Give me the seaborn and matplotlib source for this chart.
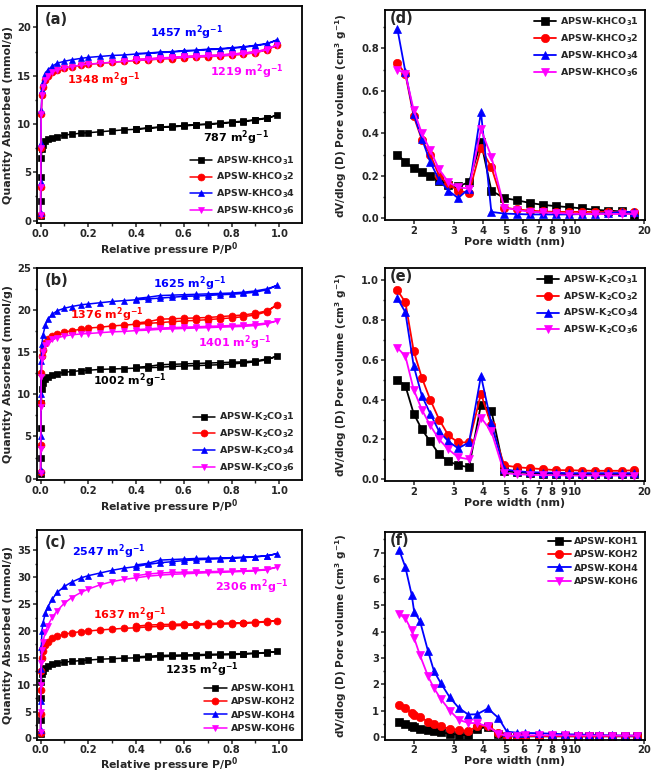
import matplotlib
matplotlib.use("Agg")
import matplotlib.pyplot as plt
from matplotlib.ticker import AutoMinorLocator, FixedLocator, NullLocator, MultipleLocator
import seaborn as sns

# relative pressure grid (adsorption branch, then desorption branch)
p_ads = [0.0002, 0.0006, 0.0015, 0.003, 0.006, 0.01, 0.02, 0.03, 0.05, 0.07, 0.1, 0.13, 0.17, 0.2,
         0.25, 0.3, 0.35, 0.4, 0.45, 0.5, 0.55, 0.6, 0.65, 0.7, 0.75, 0.8, 0.85, 0.9, 0.95, 0.99]
p_des = [0.95, 0.9, 0.85, 0.8, 0.75, 0.7, 0.65, 0.6, 0.55, 0.5, 0.45, 0.4]

# (a) KHCO3 isotherms
khco3_1_ads = [0.5, 2.0, 4.5, 6.5, 7.4, 7.8, 8.2, 8.4, 8.6, 8.7, 8.85, 8.95, 9.05, 9.1, 9.2, 9.3, 9.4, 9.45,
               9.55, 9.65, 9.7, 9.8, 9.9, 9.95, 10.05, 10.15, 10.25, 10.4, 10.6, 10.9]
khco3_1_des = [10.65, 10.45, 10.3, 10.2, 10.1, 10.0, 9.95, 9.85, 9.75, 9.7, 9.6, 9.5]
khco3_2_ads = [0.6, 3.5, 7.5, 11.0, 13.0, 13.8, 14.58, 14.98, 15.38, 15.58, 15.78, 15.93, 16.08, 16.18, 16.28,
               16.38, 16.48, 16.58, 16.63, 16.73, 16.78, 16.88, 16.93, 16.98, 17.03, 17.13, 17.23, 17.38,
               17.68, 18.18]
khco3_2_des = [17.73, 17.48, 17.33, 17.23, 17.13, 17.08, 17.03, 16.98, 16.88, 16.83, 16.73, 16.68]
khco3_4_ads = [0.8, 4.0, 8.0, 11.5, 13.5, 14.3, 15.2, 15.6, 16.0, 16.3, 16.5, 16.65, 16.8, 16.9, 17.0, 17.1,
               17.15, 17.25, 17.3, 17.4, 17.45, 17.55, 17.6, 17.7, 17.75, 17.85, 17.95, 18.1, 18.3, 18.7]
khco3_4_des = [18.35, 18.15, 18.0, 17.9, 17.8, 17.75, 17.65, 17.6, 17.5, 17.45, 17.35, 17.3]
khco3_6_ads = [0.6, 3.5, 7.5, 11.0, 13.0, 13.8, 14.6, 15.0, 15.4, 15.6, 15.8, 15.95, 16.1, 16.2, 16.3, 16.4,
               16.5, 16.6, 16.65, 16.75, 16.8, 16.9, 16.95, 17.0, 17.05, 17.15, 17.25, 17.4, 17.7, 18.2]
khco3_6_des = [17.75, 17.5, 17.35, 17.25, 17.15, 17.1, 17.05, 17.0, 16.9, 16.85, 16.75, 16.7]

# (b) K2CO3 isotherms
k2co3_1_ads = [0.5, 2.5, 6.0, 9.0, 10.6, 11.3, 11.8, 12.0, 12.3, 12.45, 12.6, 12.7, 12.8, 12.85, 12.95, 13.0,
               13.05, 13.1, 13.15, 13.2, 13.3, 13.35, 13.4, 13.45, 13.5, 13.6, 13.7, 13.85, 14.1, 14.5]
k2co3_1_des = [14.2, 13.95, 13.85, 13.8, 13.75, 13.7, 13.65, 13.6, 13.55, 13.5, 13.3, 13.2]
k2co3_2_ads = [0.8, 4.0, 9.0, 12.5, 14.5, 15.3, 16.1, 16.5, 16.9, 17.1, 17.35, 17.55, 17.7, 17.85, 17.95, 18.1,
               18.2, 18.3, 18.4, 18.5, 18.6, 18.7, 18.75, 18.85, 18.95, 19.05, 19.2, 19.4, 19.8, 20.6]
k2co3_2_des = [19.9, 19.6, 19.4, 19.3, 19.2, 19.1, 19.05, 19.0, 18.95, 18.9, 18.6, 18.45]
k2co3_4_ads = [1.0, 5.0, 10.0, 14.0, 16.0, 17.0, 18.2, 18.9, 19.5, 19.9, 20.2, 20.4, 20.6, 20.7, 20.85, 21.0,
               21.1, 21.2, 21.3, 21.4, 21.5, 21.6, 21.65, 21.7, 21.8, 21.85, 21.95, 22.1, 22.4, 22.9]
k2co3_4_des = [22.5, 22.25, 22.1, 22.0, 21.95, 21.9, 21.85, 21.8, 21.75, 21.7, 21.5, 21.35]
k2co3_6_ads = [0.7, 3.5, 8.5, 12.0, 14.2, 15.0, 15.8, 16.1, 16.5, 16.7, 16.9, 17.05, 17.15, 17.2, 17.3, 17.4,
               17.45, 17.55, 17.6, 17.7, 17.75, 17.8, 17.85, 17.9, 17.95, 18.0, 18.05, 18.15, 18.35, 18.7]
k2co3_6_des = [18.45, 18.3, 18.2, 18.15, 18.1, 18.05, 18.0, 17.95, 17.9, 17.85, 17.75, 17.65]

# (c) KOH isotherms
koh_1_ads = [0.8, 3.5, 7.5, 10.5, 12.0, 12.6, 13.2, 13.5, 13.8, 14.0, 14.2, 14.35, 14.5, 14.6, 14.75, 14.85,
             14.95, 15.0, 15.1, 15.2, 15.3, 15.35, 15.4, 15.5, 15.55, 15.6, 15.7, 15.8, 15.95, 16.2]
koh_1_des = [16.0, 15.9, 15.8, 15.75, 15.7, 15.65, 15.6, 15.55, 15.5, 15.45, 15.3, 15.2]
koh_2_ads = [1.0, 4.5, 9.0, 12.5, 15.0, 16.2, 17.4, 18.0, 18.7, 19.0, 19.4, 19.65, 19.9, 20.0, 20.2, 20.35,
             20.5, 20.6, 20.75, 20.85, 20.95, 21.05, 21.1, 21.2, 21.25, 21.35, 21.45, 21.55, 21.7, 21.95]
koh_2_des = [21.8, 21.65, 21.55, 21.5, 21.45, 21.4, 21.35, 21.3, 21.25, 21.2, 21.1, 20.9]
koh_4_ads = [1.5, 7.0, 13.0, 17.0, 20.0, 21.5, 23.3, 24.5, 26.0, 27.2, 28.3, 29.1, 29.9, 30.3, 30.8, 31.3,
             31.7, 32.0, 32.4, 32.7, 32.9, 33.1, 33.25, 33.35, 33.45, 33.55, 33.65, 33.8, 34.0, 34.4]
koh_4_des = [34.0, 33.85, 33.75, 33.65, 33.6, 33.55, 33.5, 33.4, 33.3, 33.2, 32.6, 32.3]
koh_6_ads = [1.2, 5.0, 10.0, 14.0, 16.5, 18.0, 19.8, 21.0, 22.6, 23.8, 25.2, 26.2, 27.2, 27.8, 28.6, 29.2,
             29.6, 29.9, 30.2, 30.4, 30.55, 30.65, 30.75, 30.85, 30.9, 31.0, 31.1, 31.2, 31.4, 31.9]
koh_6_des = [31.5, 31.3, 31.2, 31.15, 31.1, 31.05, 31.0, 30.95, 30.9, 30.8, 30.6, 30.3]

# pore size distributions (d), (e) share a pore width grid; (f) has its own
w_de = [1.70, 1.84, 2.00, 2.17, 2.36, 2.58, 2.83, 3.12, 3.48, 3.92, 4.35, 4.95, 5.6, 6.4, 7.3, 8.3,
        9.5, 10.8, 12.3, 14.0, 16.0, 18.2]
psd_khco3_1 = [0.30, 0.265, 0.235, 0.218, 0.198, 0.175, 0.157, 0.150, 0.170, 0.36, 0.13, 0.095, 0.085,
               0.072, 0.063, 0.057, 0.052, 0.046, 0.040, 0.036, 0.032, 0.015]
psd_khco3_2 = [0.73, 0.68, 0.48, 0.37, 0.30, 0.20, 0.16, 0.13, 0.12, 0.33, 0.24, 0.05, 0.042, 0.036, 0.032,
               0.03, 0.03, 0.03, 0.03, 0.03, 0.03, 0.03]
psd_khco3_4 = [0.89, 0.69, 0.49, 0.375, 0.265, 0.18, 0.13, 0.095, 0.14, 0.50, 0.03, 0.022, 0.02, 0.018,
               0.018, 0.018, 0.018, 0.02, 0.02, 0.025, 0.03, 0.03]
psd_khco3_6 = [0.70, 0.68, 0.51, 0.40, 0.32, 0.23, 0.17, 0.145, 0.14, 0.42, 0.29, 0.05, 0.04, 0.03, 0.028,
               0.025, 0.022, 0.02, 0.02, 0.02, 0.02, 0.02]

psd_k2co3_1 = [0.50, 0.47, 0.33, 0.25, 0.19, 0.125, 0.09, 0.07, 0.06, 0.375, 0.345, 0.04, 0.035, 0.03,
               0.028, 0.026, 0.025, 0.025, 0.025, 0.025, 0.025, 0.025]
psd_k2co3_2 = [0.95, 0.89, 0.645, 0.51, 0.40, 0.30, 0.22, 0.185, 0.185, 0.43, 0.27, 0.07, 0.06, 0.055,
               0.05, 0.045, 0.045, 0.043, 0.042, 0.042, 0.042, 0.045]
psd_k2co3_4 = [0.91, 0.84, 0.57, 0.42, 0.33, 0.24, 0.19, 0.155, 0.185, 0.52, 0.28, 0.05, 0.04, 0.035,
               0.033, 0.032, 0.03, 0.03, 0.03, 0.03, 0.03, 0.03]
psd_k2co3_6 = [0.66, 0.62, 0.45, 0.35, 0.27, 0.20, 0.15, 0.11, 0.10, 0.31, 0.24, 0.03, 0.025, 0.022, 0.02,
               0.02, 0.018, 0.018, 0.018, 0.018, 0.018, 0.018]

w_f = [1.73, 1.84, 1.96, 2.01, 2.13, 2.31, 2.45, 2.62, 2.87, 3.14, 3.45, 3.77, 4.20, 4.67, 5.08, 5.6,
       6.1, 7.0, 8.0, 9.1, 10.4, 11.6, 12.8, 14.6, 16.6, 18.7]
psd_koh_1 = [0.55, 0.5, 0.4, 0.38, 0.31, 0.25, 0.21, 0.17, 0.12, 0.08, 0.06, 0.3, 0.38, 0.1, 0.02, 0.02,
             0.02, 0.02, 0.02, 0.02, 0.02, 0.02, 0.02, 0.02, 0.02, 0.02]
psd_koh_2 = [1.2, 1.1, 0.9, 0.85, 0.75, 0.58, 0.48, 0.4, 0.31, 0.27, 0.22, 0.4, 0.42, 0.15, 0.03, 0.03,
             0.03, 0.03, 0.03, 0.03, 0.03, 0.03, 0.03, 0.03, 0.03, 0.03]
psd_koh_4 = [7.1, 6.45, 5.4, 4.75, 4.4, 3.25, 2.5, 2.05, 1.5, 1.1, 0.85, 0.86, 1.08, 0.72, 0.2, 0.16,
             0.15, 0.14, 0.12, 0.1, 0.09, 0.08, 0.07, 0.06, 0.05, 0.05]
psd_koh_6 = [4.67, 4.5, 4.05, 3.75, 3.1, 2.3, 1.85, 1.45, 1.0, 0.65, 0.53, 0.52, 0.4, 0.12, 0.04, 0.05,
             0.06, 0.06, 0.06, 0.06, 0.05, 0.05, 0.05, 0.05, 0.05, 0.05]

colors = ["#000000", "#ff0000", "#0000ff", "#ff00ff"]
markers = ["s", "o", "^", "v"]

sns.set_style("ticks")
plt.rcParams["font.family"] = ["DejaVu Sans"]
plt.rcParams["font.weight"] = "bold"
plt.rcParams["axes.labelweight"] = "bold"
plt.rcParams["mathtext.default"] = "bf"
plt.rcParams["axes.linewidth"] = 1.3
plt.rcParams["xtick.major.width"] = 1.1
plt.rcParams["ytick.major.width"] = 1.1
plt.rcParams["xtick.minor.width"] = 1.0
plt.rcParams["ytick.minor.width"] = 1.0

fig = plt.figure(figsize=(6.58, 7.76), dpi=100)

left_boxes = [[0.0562, 0.712, 0.4027, 0.280], [0.0562, 0.381, 0.4027, 0.274], [0.0562, 0.047, 0.4027, 0.270]]
right_boxes = [[0.585, 0.716, 0.395, 0.271], [0.585, 0.380, 0.395, 0.275], [0.585, 0.047, 0.395, 0.268]]


def style_axes(ax):
    for s in ax.spines.values():
        s.set_visible(True)
        s.set_linewidth(1.3)
        s.set_color("black")
    ax.tick_params(axis="both", which="both", direction="out", labelsize=7.2, pad=1.2,
                   top=False, right=False)
    ax.tick_params(which="major", length=3)
    ax.tick_params(which="minor", length=1.8)
    for lab in ax.get_xticklabels() + ax.get_yticklabels():
        lab.set_fontweight("bold")


def iso_panel(ax, series, labels, ylim, ystep, notes, tag):
    for (ads, des), lab, c, m in zip(series, labels, colors, markers):
        sns.lineplot(x=p_ads + p_des, y=ads + des, sort=False, estimator=None, ax=ax, color=c,
                     marker=m, markersize=5, markeredgecolor=c, markeredgewidth=0.5,
                     linewidth=1.1, label=lab)
    ax.set_xlim(-0.015, 1.095)
    ax.set_ylim(*ylim)
    ax.xaxis.set_major_locator(MultipleLocator(0.2))
    ax.xaxis.set_minor_locator(AutoMinorLocator(2))
    ax.yaxis.set_major_locator(MultipleLocator(ystep))
    ax.yaxis.set_minor_locator(AutoMinorLocator(2))
    ax.set_xlabel("Relative pressure P/P$^0$", fontsize=7.8, fontweight="bold")
    ax.set_ylabel("Quantity Absorbed (mmol/g)", fontsize=8, fontweight="bold")
    ax.xaxis.set_label_coords(0.5, -0.078)
    ax.yaxis.set_label_coords(-0.09, 0.5)
    for x, y, txt, c in notes:
        ax.text(x, y, txt, color=c, fontsize=8, fontweight="bold", va="center", ha="left")
    ax.text(0.03, 0.975, tag, transform=ax.transAxes, fontsize=10.5, fontweight="bold", va="top")
    ax.legend(loc="lower right", frameon=False, handlelength=2.4, handletextpad=0.4,
              labelspacing=0.45, borderaxespad=0.3, prop={"weight": "bold", "size": 6.8})
    style_axes(ax)


def psd_panel(ax, widths, series, labels, ylim, ystep, tag):
    for vals, lab, c, m in zip(series, labels, colors, markers):
        sns.lineplot(x=widths, y=vals, sort=False, estimator=None, ax=ax, color=c, marker=m,
                     markersize=6, markeredgecolor=c, markeredgewidth=0.5, linewidth=1.3, label=lab)
    ax.set_xscale("log")
    ax.set_xlim(1.5, 20.2)
    ax.set_ylim(*ylim)
    ticks = [2, 3, 4, 5, 6, 7, 8, 9, 10, 20]
    ax.xaxis.set_major_locator(FixedLocator(ticks))
    ax.xaxis.set_minor_locator(NullLocator())
    ax.set_xticklabels([str(t) for t in ticks])
    ax.yaxis.set_major_locator(MultipleLocator(ystep))
    ax.yaxis.set_minor_locator(AutoMinorLocator(2))
    ax.set_xlabel("Pore width (nm)", fontsize=8, fontweight="bold")
    ax.set_ylabel("dV/dlog (D) Pore volume (cm$^3$ g$^{-1}$)", fontsize=7.6, fontweight="bold")
    ax.xaxis.set_label_coords(0.5, -0.08)
    ax.yaxis.set_label_coords(-0.14, 0.5)
    ax.text(0.02, 0.995, tag, transform=ax.transAxes, fontsize=10.5, fontweight="bold", va="top")
    ax.legend(loc="upper right", frameon=False, handlelength=2.4, handletextpad=0.4,
              labelspacing=0.45, borderaxespad=0.2, prop={"weight": "bold", "size": 6.8})
    style_axes(ax)


ax_a = fig.add_axes(left_boxes[0])
iso_panel(ax_a,
          [(khco3_1_ads, khco3_1_des), (khco3_2_ads, khco3_2_des),
           (khco3_4_ads, khco3_4_des), (khco3_6_ads, khco3_6_des)],
          ["APSW-KHCO$_3$1", "APSW-KHCO$_3$2", "APSW-KHCO$_3$4", "APSW-KHCO$_3$6"],
          (-0.3, 22.2), 5,
          [(0.46, 19.5, "1457 m$^2$g$^{-1}$", colors[2]),
           (0.11, 14.6, "1348 m$^2$g$^{-1}$", colors[1]),
           (0.71, 15.4, "1219 m$^2$g$^{-1}$", colors[3]),
           (0.68, 8.6, "787 m$^2$g$^{-1}$", colors[0])],
          "(a)")

ax_b = fig.add_axes(left_boxes[1])
iso_panel(ax_b,
          [(k2co3_1_ads, k2co3_1_des), (k2co3_2_ads, k2co3_2_des),
           (k2co3_4_ads, k2co3_4_des), (k2co3_6_ads, k2co3_6_des)],
          ["APSW-K$_2$CO$_3$1", "APSW-K$_2$CO$_3$2", "APSW-K$_2$CO$_3$4", "APSW-K$_2$CO$_3$6"],
          (-0.2, 25.0), 5,
          [(0.47, 23.1, "1625 m$^2$g$^{-1}$", colors[2]),
           (0.125, 19.4, "1376 m$^2$g$^{-1}$", colors[1]),
           (0.66, 16.1, "1401 m$^2$g$^{-1}$", colors[3]),
           (0.22, 11.6, "1002 m$^2$g$^{-1}$", colors[0])],
          "(b)")

ax_c = fig.add_axes(left_boxes[2])
iso_panel(ax_c,
          [(koh_1_ads, koh_1_des), (koh_2_ads, koh_2_des),
           (koh_4_ads, koh_4_des), (koh_6_ads, koh_6_des)],
          ["APSW-KOH1", "APSW-KOH2", "APSW-KOH4", "APSW-KOH6"],
          (-0.2, 38.8), 5,
          [(0.13, 34.8, "2547 m$^2$g$^{-1}$", colors[2]),
           (0.73, 28.3, "2306 m$^2$g$^{-1}$", colors[3]),
           (0.22, 23.0, "1637 m$^2$g$^{-1}$", colors[1]),
           (0.52, 12.8, "1235 m$^2$g$^{-1}$", colors[0])],
          "(c)")

ax_d = fig.add_axes(right_boxes[0])
psd_panel(ax_d, w_de, [psd_khco3_1, psd_khco3_2, psd_khco3_4, psd_khco3_6],
          ["APSW-KHCO$_3$1", "APSW-KHCO$_3$2", "APSW-KHCO$_3$4", "APSW-KHCO$_3$6"],
          (-0.01, 0.98), 0.2, "(d)")

ax_e = fig.add_axes(right_boxes[1])
psd_panel(ax_e, w_de, [psd_k2co3_1, psd_k2co3_2, psd_k2co3_4, psd_k2co3_6],
          ["APSW-K$_2$CO$_3$1", "APSW-K$_2$CO$_3$2", "APSW-K$_2$CO$_3$4", "APSW-K$_2$CO$_3$6"],
          (-0.01, 1.064), 0.2, "(e)")

ax_f = fig.add_axes(right_boxes[2])
psd_panel(ax_f, w_f, [psd_koh_1, psd_koh_2, psd_koh_4, psd_koh_6],
          ["APSW-KOH1", "APSW-KOH2", "APSW-KOH4", "APSW-KOH6"],
          (-0.1, 7.8), 1, "(f)")

fig.savefig("out.png", dpi=100)
plt.close(fig)
